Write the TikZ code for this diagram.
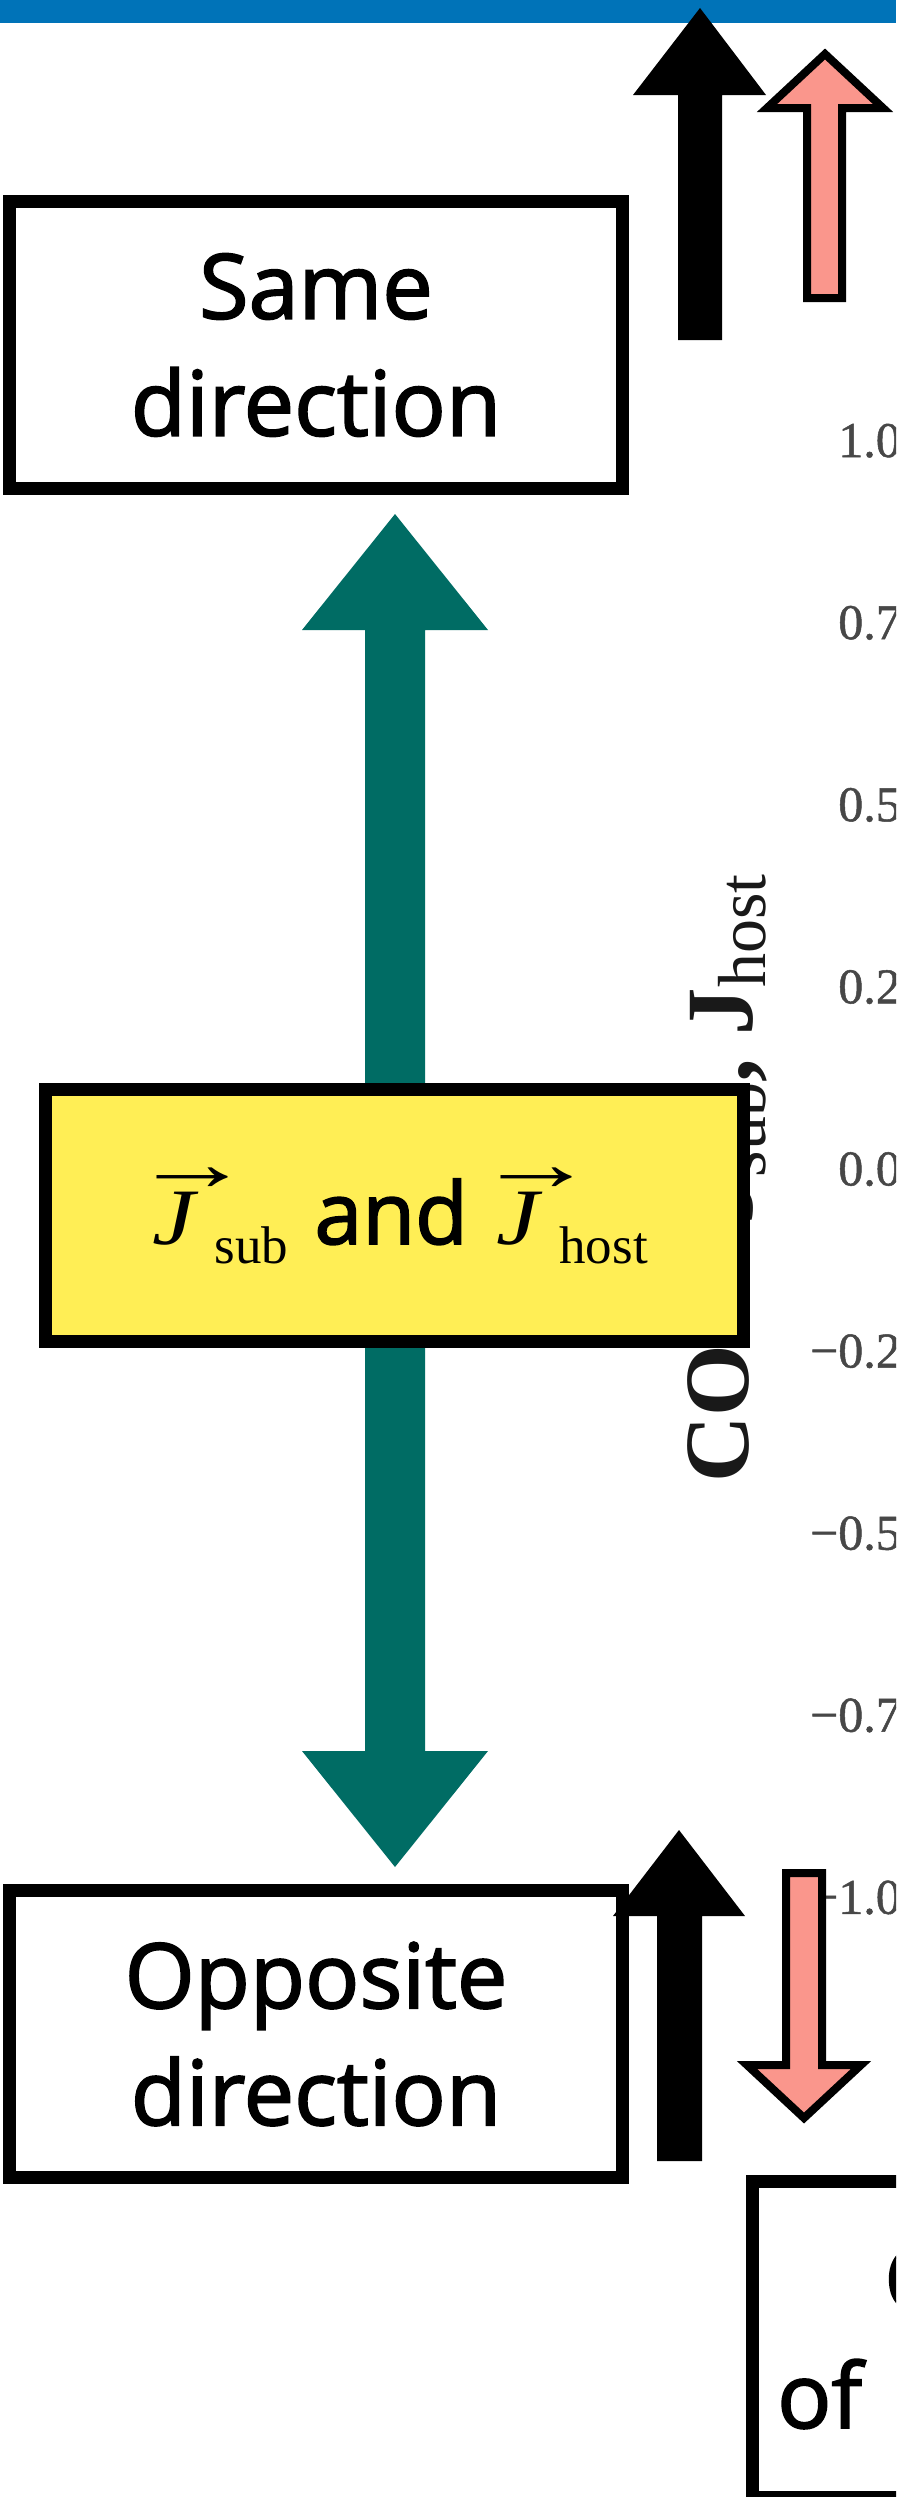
\documentclass[tikz,border=0pt]{standalone}
\usepackage{graphicx}
\usepackage{fontspec}
\setmainfont{Open Sans}
\newfontfamily\boxfont{Open Sans}[FakeBold=2]
\newfontfamily\serifJ{Liberation Serif}
\newfontfamily\mathJ{Liberation Serif}[FakeStretch=1.2]
\newfontfamily\tickfont{Liberation Serif}[FakeBold=1]
\definecolor{barblue}{RGB}{0,115,184}
\definecolor{tealc}{RGB}{0,108,100}
\definecolor{pinkc}{RGB}{250,150,140}
\definecolor{yellowc}{RGB}{255,238,85}
\newcommand\arrJ[1]{\rlap{\kern-20bp\raisebox{54bp}{\serifJ\scalebox{1.5}[1]{→}}}{\mathJ\itshape J}\kern20bp\raisebox{-19bp}{\serifJ\fontsize{53bp}{60bp}\selectfont #1}}
\tikzset{
  box/.style={draw=black, line width=13bp, rectangle, inner sep=0pt, align=center,
    font={\boxfont\fontsize{90bp}{117bp}\selectfont}},
  blackarrow/.style={fill=black},
  pinkarrow/.style={fill=pinkc, draw=black, line width=8bp, miter limit=10},
  ticklab/.style={anchor=base east, inner sep=0pt, text=black!72,
    font={\tickfont\fontsize{50bp}{60bp}\selectfont}},
  axlab/.style={rotate=90, anchor=base west, inner sep=0pt, text=black!90},
  plain/.style={inner sep=0pt},
}
\begin{document}
\begin{tikzpicture}[x=1bp,y=-1bp]
\useasboundingbox (0,0) rectangle (896,2497);
\clip (0,0) rectangle (896,2497);
\fill[white] (0,0) rectangle (896,2497);
\fill[barblue] (0,0) rectangle (896,23);

% background plot: tick labels
\foreach \lab [count=\k from 0] in {1.00,0.75,0.50,0.25,0.00,−0.25,−0.50,−0.75,−1.00}
  \node[ticklab] (tick\k) at (926,{457+182.1*\k}) {\lab};

% background plot: axis label
\node[axlab, font={\serifJ\bfseries\fontsize{92bp}{100bp}\selectfont}] (ylabA) at (748,1483) {CO};
\node[axlab, font={\serifJ\bfseries\fontsize{95bp}{100bp}\selectfont}] (ylabB) at (752,1225)
  {J\raisebox{-13bp}{\mdseries\fontsize{68bp}{70bp}\selectfont sub}, J\raisebox{-13bp}{\mdseries\fontsize{68bp}{70bp}\selectfont host}};

% teal double arrow
\coordinate (tealtop) at (395,514);
\coordinate (tealbot) at (395,1867);
\fill[tealc] (tealtop) -- (488,630) -- (425,630) -- (425,1751) -- (488,1751) -- (tealbot)
  -- (302,1751) -- (365,1751) -- (365,630) -- (302,630) -- cycle;

% boxes
\node[box, minimum width=613bp, minimum height=287bp] (same) at (316,345) {Same\\direction};
\node[box, minimum width=613bp, minimum height=287bp] (opp) at (316,2034) {Opposite\\direction};
\node[box, fill=yellowc, minimum width=698bp, minimum height=252bp] (jbox) at (394.5,1215.5) {};
\node[plain, anchor=base] (jtext) at (400,1244)
  {{\fontsize{80bp}{96bp}\selectfont\arrJ{sub}}\kern26bp{\boxfont\fontsize{86bp}{100bp}\selectfont and}\kern29bp{\fontsize{80bp}{96bp}\selectfont\arrJ{host}}};

\node[draw, line width=13bp, inner sep=0pt, minimum width=400bp, minimum height=316.5bp, anchor=north west] (cbox) at (745.5,2174.5) {};
\node[plain, anchor=base west, font={\boxfont\fontsize{90bp}{117bp}\selectfont}] (ctext) at (884,2311) {C};
\node[plain, anchor=base west, font={\boxfont\fontsize{90bp}{117bp}\selectfont}] (oftext) at (777,2428) {of};

% black and pink arrows
\fill[blackarrow] (700,8) -- (766,95) -- (722,95) -- (722,340) -- (678,340) -- (678,95) -- (633,95) -- cycle;
\draw[pinkarrow] (825,54) -- (883,108) -- (842,108) -- (842,298) -- (807,298) -- (807,108) -- (767,108) -- cycle;
\fill[blackarrow] (679,1830) -- (745,1916) -- (702,1916) -- (702,2161) -- (657,2161) -- (657,1916) -- (613,1916) -- cycle;
\draw[pinkarrow] (804,2118) -- (861,2065) -- (822,2065) -- (822,1873) -- (786,1873) -- (786,2065) -- (747,2065) -- cycle;
\end{tikzpicture}
\end{document}
